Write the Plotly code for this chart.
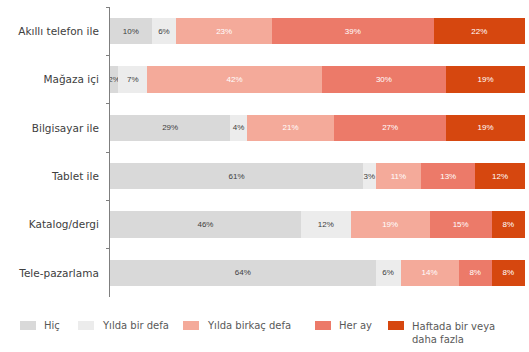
import plotly.graph_objects as go

channels = ["Akıllı telefon ile", "Mağaza içi", "Bilgisayar ile", "Tablet ile",
            "Katalog/dergi", "Tele-pazarlama"]

hic = [10, 2, 29, 61, 46, 64]
yilda_bir = [6, 7, 4, 3, 12, 6]
yilda_birkac = [23, 42, 21, 11, 19, 14]
her_ay = [39, 30, 27, 13, 15, 8]
haftada = [22, 19, 19, 12, 8, 8]

series = [
    ("Hiç", hic, "#d9d9d9", "#404040"),
    ("Yılda bir defa", yilda_bir, "#ececec", "#404040"),
    ("Yılda birkaç defa", yilda_birkac, "#f4aa9a", "#ffffff"),
    ("Her ay", her_ay, "#ec7a69", "#ffffff"),
    ("Haftada bir veya<br>daha fazla", haftada, "#d6470f", "#ffffff"),
]

W, H = 529, 352
ML, MR, MT, MB = 110, 4, 7, 55
PW, PH = W - ML - MR, H - MT - MB


def px(p):
    return (p - ML) / PW


def py(p):
    return 1 - (p - MT) / PH


fig = go.Figure()
for name, vals, color, tcolor in series:
    fig.add_trace(go.Bar(
        y=channels, x=vals, name=name, orientation="h",
        marker=dict(color=color, line=dict(width=0)),
        text=[f"{v}%" for v in vals], textposition="inside",
        insidetextanchor="middle", textangle=0, constraintext="none",
        textfont=dict(size=8, color=tcolor, family="Liberation Sans"),
        showlegend=False,
    ))

# legend row drawn as swatches with labels
legend_x = [20, 78, 183, 315, 388]
shapes = []
annotations = []
for (name, _, color, _), x0 in zip(series, legend_x):
    shapes.append(dict(type="rect", xref="paper", yref="paper",
                       x0=px(x0), x1=px(x0 + 16), y0=py(330), y1=py(321),
                       fillcolor=color, line=dict(width=0)))
    two_lines = "<br>" in name
    annotations.append(dict(
        xref="paper", yref="paper", x=px(x0 + 22), y=py(319 if two_lines else 325.5),
        xanchor="left", yanchor="top" if two_lines else "middle", align="left",
        text=name, showarrow=False,
        font=dict(size=10, color="#595959", family="DejaVu Sans"),
    ))

fig.update_layout(
    barmode="stack", bargap=0.45,
    width=W, height=H,
    margin=dict(l=ML, r=MR, t=MT, b=MB),
    paper_bgcolor="white", plot_bgcolor="white",
    font=dict(family="DejaVu Sans", size=10.5, color="#404040"),
    showlegend=False,
    shapes=shapes, annotations=annotations,
    xaxis=dict(range=[0, 100], visible=False),
    yaxis=dict(autorange="reversed", showline=True, linecolor="#7f7f7f", linewidth=1,
               ticks="outside", tickson="boundaries", ticklen=3, tickcolor="#7f7f7f",
               ticklabelstandoff=8, showgrid=False),
)

fig.write_html("out.html")
